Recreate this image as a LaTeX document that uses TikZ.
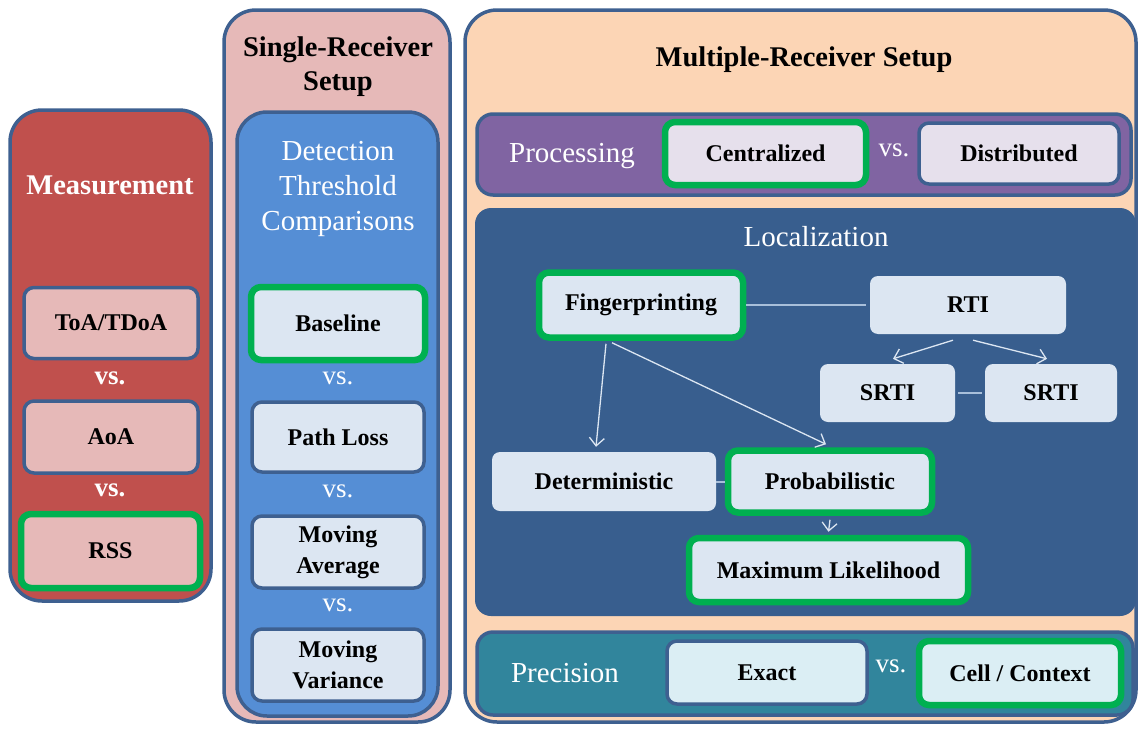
\documentclass[tikz,border=0pt]{standalone}
\usepackage{fontspec}
\setmainfont{Liberation Serif}
\usetikzlibrary{arrows.meta}

\definecolor{edgeblue}{HTML}{3E6090}
\definecolor{measred}{HTML}{C0504D}
\definecolor{rosefill}{HTML}{E6B9B8}
\definecolor{detblue}{HTML}{558ED5}
\definecolor{paleblue}{HTML}{DCE6F2}
\definecolor{peach}{HTML}{FCD5B5}
\definecolor{procpurple}{HTML}{8064A2}
\definecolor{lavender}{HTML}{E6E0EC}
\definecolor{locblue}{HTML}{385E8E}
\definecolor{precteal}{HTML}{31859C}
\definecolor{precfill}{HTML}{DBEEF4}
\definecolor{pickgreen}{HTML}{00B050}
\definecolor{linkblue}{HTML}{A8BFDA}

\newcommand\itemfont{\fontsize{24}{31}\selectfont\bfseries}
\newcommand\headfont{\fontsize{28.5}{34}\selectfont\bfseries}
\newcommand\capfont{\fontsize{29}{35}\selectfont}
\newcommand\vsfont{\fontsize{27}{30}\selectfont}

\begin{document}
\begin{tikzpicture}[x=1pt,y=-1pt,
  panel/.style={draw=edgeblue,line width=3.5pt,rounded corners=32pt,inner sep=0pt},
  bar/.style={draw=edgeblue,line width=3.5pt,rounded corners=16pt,inner sep=0pt},
  item/.style={rounded corners=10pt,inner sep=0pt,align=center,font=\itemfont,text=black},
  framed/.style={item,draw=edgeblue,line width=3.5pt},
  picked/.style={item,draw=pickgreen,line width=6.5pt},
  plain/.style={item,rounded corners=8pt},
  head/.style={font=\headfont,text=black,align=center,inner sep=0pt},
  caption/.style={font=\capfont,text=white,align=center,inner sep=0pt},
  versus/.style={font=\vsfont,text=white,inner sep=0pt},
  link/.style={draw=linkblue,line width=2pt},
  flow/.style={draw=paleblue,line width=1.3pt,-{Straight Barb[length=8pt,width=15pt,line width=1.3pt]}},
]
\useasboundingbox (0,0) rectangle (1140,728);
\fill[white] (0,0) rectangle (1140,728);

% ---------- Measurement column ----------
\node[panel,fill=measred,minimum width=201pt,minimum height=491pt] (meas) at (110.5,355.5) {};
\node[font=\headfont,text=white,inner sep=0pt] (meastitle) at (110,185) {Measurement};
\node[framed,fill=rosefill,minimum width=174pt,minimum height=71pt] (toa) at (111,323) {ToA/TDoA};
\node[versus,font=\vsfont\bfseries] (vs1) at (110,378) {vs.};
\node[framed,fill=rosefill,minimum width=174pt,minimum height=72pt] (aoa) at (111,437) {AoA};
\node[versus,font=\vsfont\bfseries] (vs2) at (110,490) {vs.};
\node[picked,fill=rosefill,minimum width=179pt,minimum height=74pt] (rss) at (110.5,551) {RSS};

% ---------- Single-receiver column ----------
\node[panel,fill=rosefill,minimum width=226pt,minimum height=712pt] (single) at (337,366) {};
\node[head] (singletitle) at (338,67) {Single-Receiver\\Setup};
\node[panel,fill=detblue,rounded corners=30pt,minimum width=201pt,minimum height=604pt] (detect) at (337.5,414) {};
\node[caption] (detecttitle) at (338,189) {Detection\\Threshold\\Comparisons};
\node[picked,fill=paleblue,minimum width=174pt,minimum height=73pt] (base) at (338,323.5) {Baseline};
\node[versus] (vs3) at (338,378) {vs.};
\node[framed,fill=paleblue,minimum width=172pt,minimum height=70pt] (ploss) at (338,437) {Path Loss};
\node[versus] (vs4) at (338,491) {vs.};
\node[framed,fill=paleblue,minimum width=172pt,minimum height=72pt] (mavg) at (338,552) {Moving\\Average};
\node[versus] (vs5) at (338,605) {vs.};
\node[framed,fill=paleblue,minimum width=172pt,minimum height=72pt] (mvar) at (338,665) {Moving\\Variance};

% ---------- Multiple-receiver column ----------
\node[panel,fill=peach,minimum width=671pt,minimum height=712pt] (multi) at (800.5,366) {};
\node[head] (multititle) at (804,60) {Multiple-Receiver Setup};

% processing
\node[bar,fill=procpurple,minimum width=654pt,minimum height=81pt] (proc) at (804,154.5) {};
\node[caption] (proctitle) at (572,156) {Processing};
\node[picked,fill=lavender,minimum width=201pt,minimum height=63pt] (central) at (765.5,153.5) {Centralized};
\node[versus] (vs6) at (894,150) {vs.};
\node[framed,fill=lavender,minimum width=200pt,minimum height=61pt] (distrib) at (1019,153.5) {Distributed};

% localization
\node[bar,draw=none,fill=locblue,minimum width=661pt,minimum height=408pt] (loc) at (805.5,412) {};
\node[caption] (loctitle) at (816,237) {Localization};
\node[picked,fill=paleblue,minimum width=204pt,minimum height=65pt] (finger) at (641,305) {Fingerprinting};
\node[plain,fill=paleblue,minimum width=196pt,minimum height=58pt] (rti) at (968,305) {RTI};
\node[plain,fill=paleblue,minimum width=135pt,minimum height=58pt] (srtia) at (887.5,393) {SRTI};
\node[plain,fill=paleblue,minimum width=132pt,minimum height=58pt] (srtib) at (1051,393) {SRTI};
\node[plain,fill=paleblue,minimum width=224pt,minimum height=59pt] (determ) at (604,481.5) {Deterministic};
\node[picked,fill=paleblue,minimum width=204pt,minimum height=62pt] (prob) at (830,481.5) {Probabilistic};
\node[picked,fill=paleblue,minimum width=279pt,minimum height=64pt] (maxlik) at (828.5,570) {Maximum Likelihood};

\draw[link] (finger.east) -- ([xshift=-4pt]rti.west);
\draw[link] ([xshift=3pt]srtia.east) -- ([xshift=-3pt]srtib.west);
\draw[link] (determ.east) -- (prob.west);
\draw[flow] ([xshift=-15pt,yshift=-6pt]rti.south) -- ([xshift=5.5pt,yshift=5pt]srtia.north);
\draw[flow] ([xshift=5pt,yshift=-6pt]rti.south) -- ([xshift=-4pt,yshift=5pt]srtib.north);
\draw[flow] ([xshift=-35pt,yshift=-3pt]finger.south) -- ([xshift=-8pt,yshift=5pt]determ.north);
\draw[flow] ([xshift=-29pt,yshift=-2pt]finger.south) -- ([xshift=-4pt,yshift=3pt]prob.north);
\draw[flow] ([yshift=-4pt]prob.south) -- ([yshift=3pt]maxlik.north);

% precision
\node[bar,fill=precteal,minimum width=656pt,minimum height=83pt] (prec) at (805,673.5) {};
\node[caption] (prectitle) at (565,673) {Precision};
\node[framed,fill=precfill,minimum width=200pt,minimum height=63pt] (exact) at (767,672.5) {Exact};
\node[versus] (vs7) at (891,666) {vs.};
\node[picked,fill=precfill,minimum width=202pt,minimum height=64pt] (cell) at (1020,673) {Cell / Context};
\end{tikzpicture}
\end{document}
